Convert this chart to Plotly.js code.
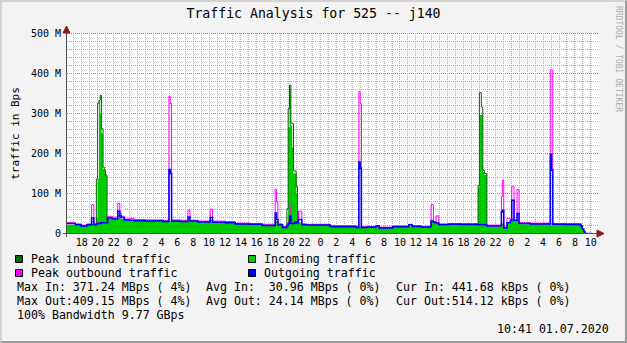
<!DOCTYPE html>
<html><head><meta charset="utf-8">
<script src="https://cdn.plot.ly/plotly-3.0.1.min.js"></script>
<style>
html,body{margin:0;padding:0;background:#F3F3F3;}
#wrap{position:relative;width:627px;height:343px;overflow:hidden;}
#chart{position:absolute;left:0;top:0;width:627px;height:343px;}
#frame{position:absolute;left:0;top:0;width:627px;height:343px;box-sizing:border-box;border-top:2px solid #D2D2D2;border-left:2px solid #D2D2D2;border-bottom:2px solid #9C9C9C;border-right:2px solid #9C9C9C;pointer-events:none;}
</style></head><body>
<div id="wrap"><div id="chart"></div><div id="frame"></div></div>
<script>
// time in hours relative to 29.06.2020 00:00 (step start points)
const hours = [
-7.87,-6.82,-6.11,-5.35,-4.78,-4.50,-4.18,-4.02,-3.85,-3.68,
-3.52,-3.34,-3.18,-3.02,-2.84,-2.76,-2.17,-1.48,-1.23,-1.04,
-0.67,-0.08,0.59,1.97,3.23,4.23,4.95,5.11,5.28,6.37,
7.34,7.59,8.63,10.14,10.43,12.03,13.28,15.17,16.68,18.31,
18.47,18.65,19.23,19.78,19.94,20.11,20.28,20.45,20.61,20.78,
20.95,21.11,21.24,21.66,22.29,25.22,28.49,28.83,28.99,29.15,
29.87,31.00,31.38,33.10,35.11,35.52,36.66,37.91,38.20,38.54,
38.88,40.05,41.68,43.82,43.98,44.23,44.41,44.61,44.91,46.75,
46.87,47.05,47.46,47.88,48.05,48.34,48.72,48.97,50.35,52.90,
53.06,53.21,54.75,56.76,56.93,57.10,57.26,58.14];
// values in MBps (M)
const incoming = [
22,20,18,21,25,20,40,136,330,300,
250,160,156,145,28,37,36,40,38,36,
33,32,31,30,31,30,28,28,30,29,
30,29,27,29,27,26,24,23,21,29,
25,21,17,20,265,360,270,215,150,150,
100,24,24,21,20,17,16,16,16,16,
16,17,15,16,18,17,15,29,28,24,
20,21,21,115,296,296,154,147,17,20,
22,12,25,28,33,29,30,23,22.5,22,
22,22,22,18,10,4,0,0];
const peakIn = [
25,22,19,22,30,22,136,326,333,345,
262,166,158,146,30,39,37,44,40,40,
34,33,32,31,32,30,30,30,31,30,
32,31,29,32,28,27,24,23,21,30,
27,22,17,62,312,371,276,275,158,155,
117,26,26,22,21.5,17,16,16,16,16,
16,19,15,17,22,17.5,16,31,28,26,
22,23,22.5,120,352,316,158,150,19,22,
24,14,27,32,35,32,32,25,24,24,
24,23,22.5,19,11,5,0,0];
const outgoing = [
25,22,19,22,39,22,24,25,25,26,
27,27,27,27,27,39,37,56,44,40,
34,33,32,31,32,30,160,150,31,30,
41,31,29,40,28,27,24,23,20,51,
35,22,15,20,25,43,25,25,25,28,
26,26,35,22,21.5,17,15,179,163,15,
16,19,14,17,22,17.5,16,31,28,26,
22,23,22.5,22,22,22,22,22,19,54,
58,14,27,32,83,32,50,25,24,198,
158,23,22.5,19,11,5,0,0];
const peakOut = [
27,24,21,24,72,24,26,27,27,28,
29,29,29,29,30,43,41,75,50,43,
36,37,35,34,34,33,343,325,34,33,
58,33,31,61,31,30,26,25,23,111,
79,24,17,22,27,75,27,27,27,30,
28,28,56,24,23,20,17,355,325,17,
17,20,16,19,23,20,18,72,30,44,
24,25,25,25,25,25,25,25,21,92,
133,16,37,35,118,34,110,27,26,409,
409,25,25,20,12,5,0,0];

const xTickHours = [-6,-4,-2,0,2,4,6,8,10,12,14,16,18,20,22,24,26,28,30,32,34,36,38,40,42,44,46,48,50,52,54,56,58];
const xTickLabels = ["18","20","22","0","2","4","6","8","10","12","14","16","18","20","22","0","2","4","6","8","10","12","14","16","18","20","22","0","2","4","6","8","10"];
const midnights = [0,24,48];
const yTickVals = [0,100,200,300,400,500];
const yTickLabels = ["0","100 M","200 M","300 M","400 M","500 M"];
const yMinorStep = 20;
const seriesNames = ["Peak inbound traffic","Incoming traffic","Peak outbound traffic","Outgoing traffic"];
const seriesColors = ["#006600","#00CC00","#FF00FF","#0000FF"];
const statsIn = ["Max In: 371.24 MBps ( 4%)","Avg In:\u00a0\u00a030.96 MBps ( 0%)","Cur In: 441.68 kBps ( 0%)"];
const statsOut = ["Max Out:409.15 MBps ( 4%)","Avg Out: 24.14 MBps ( 0%)","Cur Out:514.12 kBps ( 0%)"];

const FONT = "DejaVu Sans Mono";
const GRID = "#ABABAB", MGRID = "#C07878", AXIS = "#505050", ARROW = "#8B1A1A";
const DASH = '1px,1px';
// plot area in pixels (201 px tall so that grid lines land on pixel centres)
const PL = 67, PT = 33, PW = 531, PH = 201;
const fx = x => (x - PL) / PW;
const fy = y => (PT + PH - y) / PH;

const traces = [
  {x: hours, y: incoming, type: 'scatter', mode: 'lines', name: seriesNames[1],
   line: {shape: 'hv', width: 0, color: seriesColors[1]}, fill: 'tozeroy', fillcolor: seriesColors[1], hoverinfo: 'skip'},
  {x: hours, y: peakIn, type: 'scatter', mode: 'lines', name: seriesNames[0],
   line: {shape: 'hv', width: 1, color: seriesColors[0]}, hoverinfo: 'skip'},
  {x: hours, y: peakOut, type: 'scatter', mode: 'lines', name: seriesNames[2],
   line: {shape: 'hv', width: 1, color: seriesColors[2]}, hoverinfo: 'skip'},
  {x: hours, y: outgoing, type: 'scatter', mode: 'lines', name: seriesNames[3],
   line: {shape: 'hv', width: 1.5, color: seriesColors[3]}, hoverinfo: 'skip'}
];

const shapes = [];
// horizontal grid (minor gray, major red) placed on the y scale, under the traces
const yMax = yTickVals[yTickVals.length - 1];
for (let v = yMinorStep; v <= yMax; v += yMinorStep) {
  const major = yTickVals.includes(v);
  shapes.push({type: 'line', xref: 'paper', yref: 'y', x0: 0, x1: 1, y0: v, y1: v,
    line: {color: major ? MGRID : GRID, width: 1, dash: DASH}, layer: 'between'});
}
midnights.forEach(h => shapes.push({type: 'line', xref: 'x', yref: 'paper', x0: h, x1: h, y0: 0, y1: 1,
  line: {color: MGRID, width: 1, dash: DASH}, layer: 'between'}));
// axis lines
shapes.push({type: 'line', xref: 'paper', yref: 'paper', layer: 'above',
  x0: fx(63), x1: fx(597), y0: fy(233.5), y1: fy(233.5), line: {color: AXIS, width: 1}});
shapes.push({type: 'line', xref: 'paper', yref: 'paper', layer: 'above',
  x0: fx(66.5), x1: fx(66.5), y0: fy(237), y1: fy(33), line: {color: AXIS, width: 1}});
// axis arrows
shapes.push({type: 'path', xref: 'paper', yref: 'paper', layer: 'above',
  path: `M ${fx(597)},${fy(230)} L ${fx(604)},${fy(233.5)} L ${fx(597)},${fy(237)} Z`,
  fillcolor: ARROW, line: {color: ARROW, width: 1}});
shapes.push({type: 'path', xref: 'paper', yref: 'paper', layer: 'above',
  path: `M ${fx(63)},${fy(33)} L ${fx(66.5)},${fy(26)} L ${fx(70)},${fy(33)} Z`,
  fillcolor: ARROW, line: {color: ARROW, width: 1}});

// legend squares + texts
const legendOrder = [0, 1, 2, 3];
const legCols = [15, 248], legRows = [259, 273];
const annotations = [];
legendOrder.forEach((si, k) => {
  const cx = legCols[k % 2], cy = legRows[Math.floor(k / 2)];
  shapes.push({type: 'rect', xref: 'paper', yref: 'paper', layer: 'above',
    x0: fx(cx + 0.5), x1: fx(cx + 7.5), y0: fy(cy - 3.5), y1: fy(cy + 3.5),
    fillcolor: seriesColors[si], line: {color: '#000', width: 1}});
  annotations.push({xref: 'paper', yref: 'paper', x: fx(cx + 14), y: fy(cy), xanchor: 'left', yanchor: 'middle',
    showarrow: false, text: seriesNames[si], font: {family: FONT, size: 11.6, color: '#000'}});
});
const statCols = [15, 204, 394];
statsIn.forEach((t, i) => annotations.push({xref: 'paper', yref: 'paper', x: fx(statCols[i]), y: fy(287),
  xanchor: 'left', yanchor: 'middle', showarrow: false, text: t, font: {family: FONT, size: 11.6, color: '#000'}}));
statsOut.forEach((t, i) => annotations.push({xref: 'paper', yref: 'paper', x: fx(statCols[i]), y: fy(301),
  xanchor: 'left', yanchor: 'middle', showarrow: false, text: t, font: {family: FONT, size: 11.6, color: '#000'}}));
annotations.push({xref: 'paper', yref: 'paper', x: fx(15), y: fy(315), xanchor: 'left', yanchor: 'middle',
  showarrow: false, text: "100% Bandwidth 9.77 GBps", font: {family: FONT, size: 11.6, color: '#000'}});
annotations.push({xref: 'paper', yref: 'paper', x: fx(611), y: fy(329), xanchor: 'right', yanchor: 'middle',
  showarrow: false, text: "10:41 01.07.2020", font: {family: FONT, size: 11.6, color: '#000'}});
annotations.push({xref: 'paper', yref: 'paper', x: fx(618), y: fy(59), xanchor: 'center', yanchor: 'middle',
  showarrow: false, textangle: 90, text: "RRDTOOL / TOBI OETIKER", font: {family: FONT, size: 8, color: '#ABABAB'}});

const layout = {
  width: 627, height: 343,
  margin: {l: PL, r: 627 - PL - PW, t: PT, b: 343 - PT - PH, pad: 0},
  paper_bgcolor: '#F3F3F3', plot_bgcolor: '#FFFFFF',
  font: {family: FONT, color: '#000', size: 10},
  showlegend: false,
  title: {text: 'Traffic Analysis for 525 -- j140', font: {family: FONT, size: 13.2, color: '#000'},
    x: 0.5, xanchor: 'center', xref: 'container', y: 1 - 13.5 / 343, yanchor: 'middle', yref: 'container'},
  xaxis: {range: [-7.87, 58.9], tickmode: 'array', tickvals: xTickHours, ticktext: xTickLabels,
    showgrid: true, gridcolor: GRID, griddash: DASH, gridwidth: 1,
    minor: {dtick: 1, tick0: 0, showgrid: true, gridcolor: GRID, griddash: DASH, gridwidth: 1},
    showline: false, zeroline: false, ticks: '',
    tickfont: {family: FONT, size: 10, color: '#000'}, ticklabelstandoff: 1, automargin: false, fixedrange: true},
  yaxis: {range: [-1.25, 501.25], tickmode: 'array', tickvals: yTickVals, ticktext: yTickLabels,
    showgrid: false, showline: false, zeroline: false, ticks: '',
    tickfont: {family: FONT, size: 10, color: '#000'}, ticklabelstandoff: 5, automargin: false, fixedrange: true,
    title: {text: 'traffic in Bps', font: {family: FONT, size: 11, color: '#000'}, standoff: 9}},
  shapes: shapes,
  annotations: annotations
};

Plotly.newPlot('chart', traces, layout, {staticPlot: true, displayModeBar: false});
</script>
</body></html>
